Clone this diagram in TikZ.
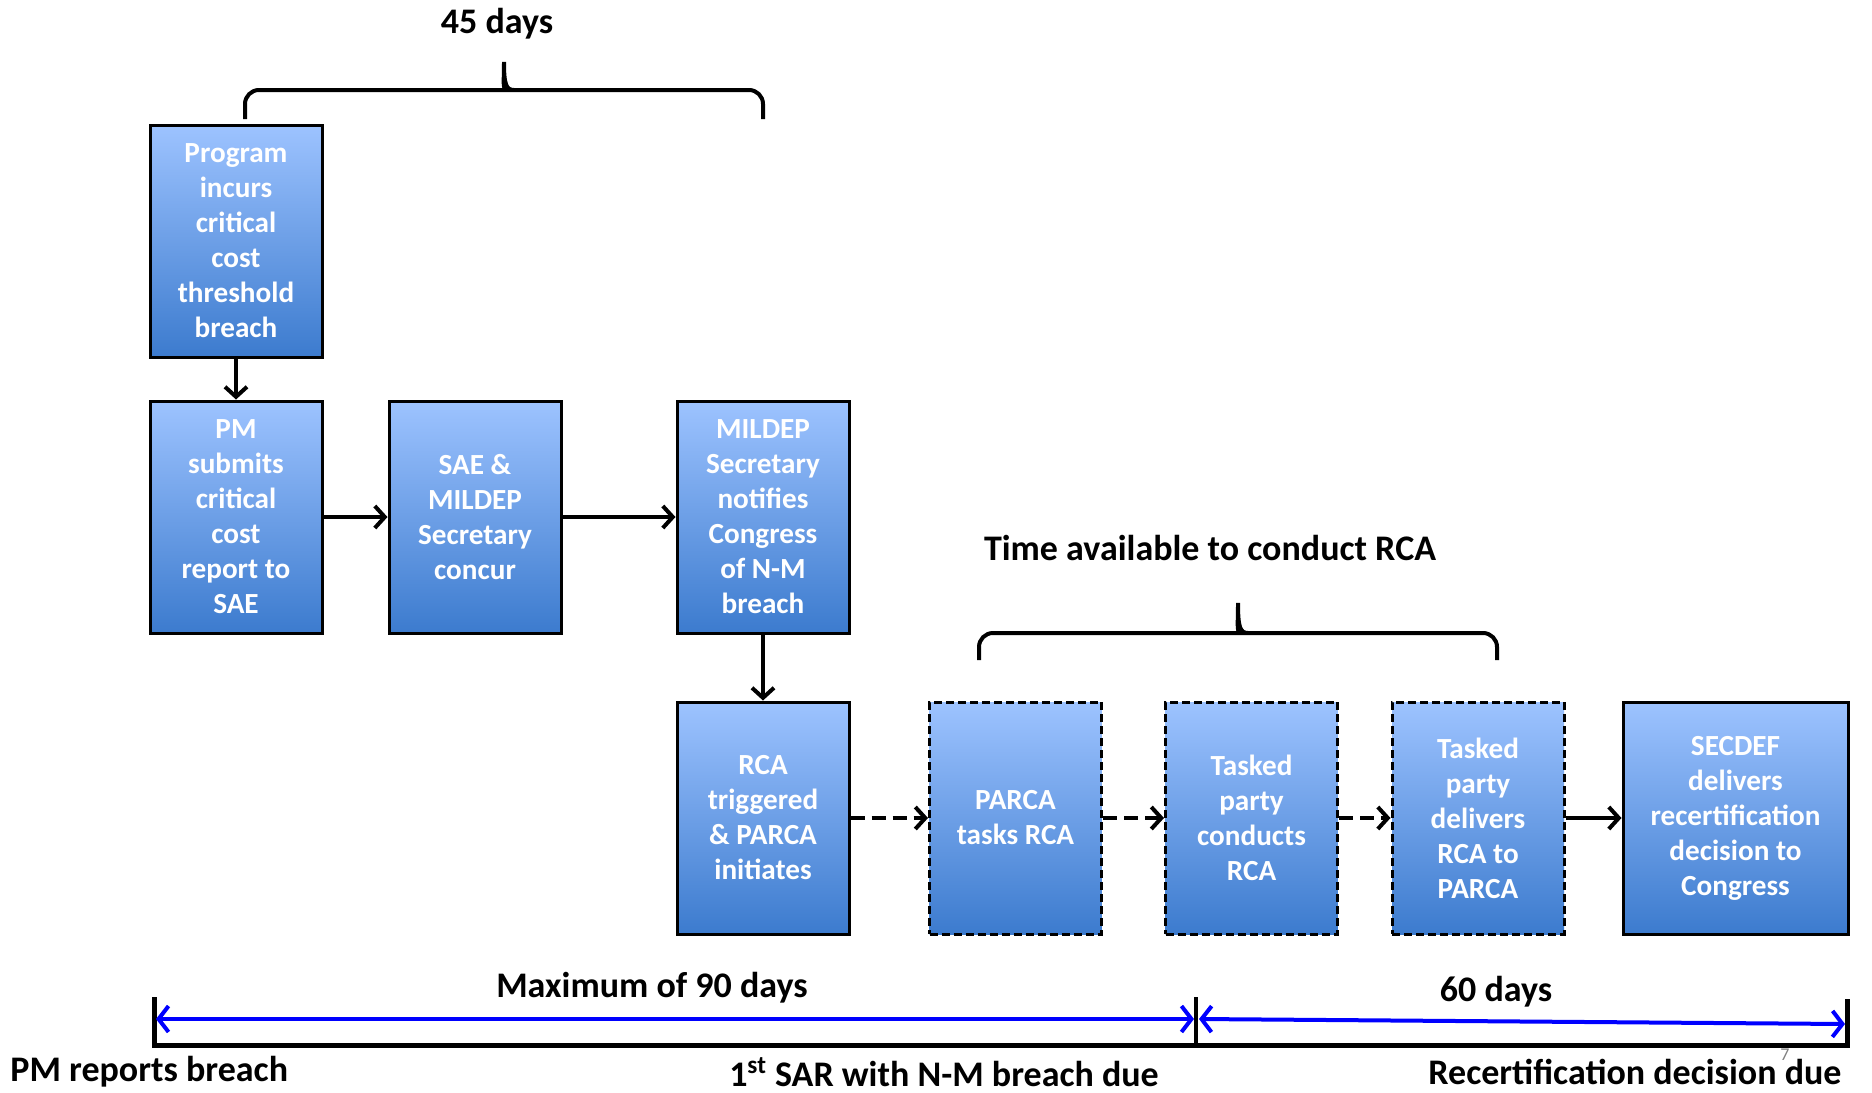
\documentclass[tikz,border=0pt]{standalone}
\usepackage{fontspec}
\setmainfont{Carlito}
\usetikzlibrary{arrows.meta}
\usetikzlibrary{positioning}

\definecolor{boxtop}{RGB}{157,195,255}
\definecolor{boxbottom}{RGB}{60,123,206}
\definecolor{spanblue}{RGB}{0,0,255}

\tikzset{
  stepbox/.style={draw=black, line width=1.5pt, top color=boxtop, bottom color=boxbottom,
    text=white, font=\fontsize{14.6}{17.5}\selectfont\bfseries, align=center,
    minimum width=86pt, minimum height=116pt, inner sep=0pt},
  optbox/.style={stepbox, dash pattern=on 4pt off 2pt},
  flow/.style={line width=2pt, -{Straight Barb[length=5pt,width=11pt,line width=2pt]}},
  flowdashed/.style={flow, dash pattern=on 7pt off 3.5pt},
  span/.style={draw=spanblue, line width=2pt,
    {Straight Barb[length=5pt,width=13pt]}-{Straight Barb[length=5pt,width=13pt]}},
  spantext/.style={font=\fontsize{18}{21}\selectfont\bfseries, inner sep=0pt},
  timebrace/.style={line width=2pt},
}

\begin{document}
\begin{tikzpicture}[x=0.5pt,y=-0.5pt]
        \useasboundingbox (0,0) rectangle (1872,1092);

        % first row
        \node[stepbox] (incurs) at (236,241) {Program\\incurs\\critical\\cost\\threshold\\breach};
        \node[stepbox] (submits) at (236,517) {PM\\submits\\critical\\cost\\report to\\SAE};
        \node[stepbox] (concur) at (475,517) {SAE \&\\MILDEP\\Secretary\\concur};
        \node[stepbox] (notifies) at (763,517) {MILDEP\\Secretary\\notifies\\Congress\\of N-M\\breach};

        % second row
        \node[stepbox] (triggered) at (763,818) {RCA\\triggered\\\& PARCA\\initiates};
        \node[optbox] (tasks) at (1015.5,818) {PARCA\\tasks RCA};
        \node[optbox] (conducts) at (1251.5,818) {Tasked\\party\\conducts\\RCA};
        \node[optbox] (delivers) at (1478,818) {Tasked\\party\\delivers\\RCA to\\PARCA};
        \node[stepbox, minimum width=112.5pt] (decides) at (1735.5,818) {SECDEF\\delivers\\recertification\\decision to\\Congress};

        \draw[flow] (incurs) -- (submits);
        \draw[flow] (submits) -- (concur);
        \draw[flow] (concur) -- (notifies);
        \draw[flow] (notifies) -- (triggered);
        \draw[flowdashed] (triggered) -- (tasks);
        \draw[flowdashed] (tasks) -- (conducts);
        \draw[flowdashed] (conducts) -- (delivers);
        \draw[flow] (delivers) -- (decides);

        % braces
        \draw[timebrace] (245,119) [rounded corners=7pt] |- (494,90) [sharp corners]
            .. controls (502,90) and (504,84) .. (504,62)
            .. controls (504,84) and (506,90) .. (514,90) [rounded corners=7pt] -| (763,119);
        \node[spantext] (fortyfive) at (497,24) {45 days};

        \draw[timebrace] (979,660) [rounded corners=7pt] |- (1228,633) [sharp corners]
            .. controls (1236,633) and (1238,627) .. (1238,603)
            .. controls (1238,627) and (1240,633) .. (1248,633) [rounded corners=7pt] -| (1497,660);
        \node[spantext] (rcatime) at (1210,548) {Time available to conduct RCA};

        % time line
        \coordinate (start) at (154,1045);
        \coordinate (sar) at (1196,1045);
        \coordinate (recert) at (1847,1045);
        \draw[line width=2.5pt] (start) ++(0,-48) -- (start) -- (recert) -- ++(0,-46);
        \draw[line width=2pt] (sar) -- ++(0,-48);

        \coordinate (ninetya) at (156,1019);
        \coordinate (ninetyb) at (1194,1019);
        \coordinate (sixtya) at (1199,1019);
        \coordinate (sixtyb) at (1845,1024);
        \draw[span] (ninetya) -- (ninetyb);
        \draw[span] (sixtya) -- (sixtyb);

        \node[spantext] (ninety) at (652,988) {Maximum of 90 days};
        \node[spantext] (sixty) at (1496,992) {60 days};
        \node[spantext, anchor=west] (reports) at (10,1072) {PM reports breach};
        \node[spantext] (sardue) at (944,1072) {1\textsuperscript{st} SAR with N-M breach due};
        \node[spantext] (recertdue) at (1635,1072) {Recertification decision due};
        \node[font=\fontsize{9}{10}\selectfont, text=gray] (slideno) at (1785,1055) {7};
    \end{tikzpicture}
\end{document}
